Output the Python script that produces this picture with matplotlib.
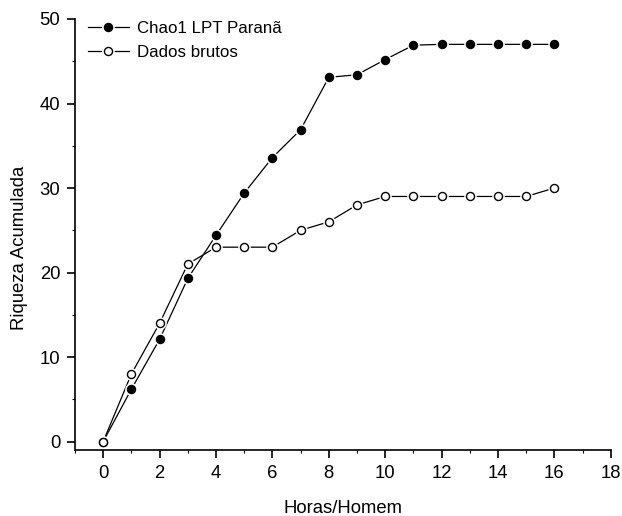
import numpy as np
import matplotlib
matplotlib.use("Agg")
import matplotlib.pyplot as plt
from matplotlib.ticker import MultipleLocator
from matplotlib.legend_handler import HandlerTuple

plt.rcParams['font.family'] = ['Liberation Sans', 'DejaVu Sans']

horas = np.arange(0, 17)
chao1 = [0, 6.2, 12.1, 19.3, 24.4, 29.4, 33.6, 36.9, 43.1, 43.4, 45.2, 46.9, 47.0, 47.0, 47.0, 47.0, 47.0]
brutos = [0, 8, 14, 21, 23, 23, 23, 25, 26, 28, 29, 29, 29, 29, 29, 29, 30]

fs = 13.3
fs_leg = 12.2
ms = 5.8

fig = plt.figure(figsize=(6.22, 5.16), dpi=100)
ax = fig.add_axes([0.1206, 0.1279, 0.8614, 0.8353])

# lines, then a white halo under each marker (gap effect), then markers
l1, = ax.plot(horas, chao1, '-', color='black', lw=0.9, zorder=2)
l2, = ax.plot(horas, brutos, '-', color='black', lw=0.9, zorder=2)
h1, = ax.plot(horas, chao1, 'o', ls='none', ms=ms + 2.2, color='white', zorder=3)
h2, = ax.plot(horas, brutos, 'o', ls='none', ms=ms + 2.2, color='white', zorder=3)
m1, = ax.plot(horas, chao1, 'o', ls='none', ms=ms, mfc='black', mec='black', zorder=4)
m2, = ax.plot(horas, brutos, 'o', ls='none', ms=ms, mfc='white', mec='black', mew=1.0, zorder=5)

ax.set_xlim(-1, 18)
ax.set_ylim(-1, 50)
ax.xaxis.set_major_locator(MultipleLocator(2))
ax.xaxis.set_minor_locator(MultipleLocator(1))
ax.yaxis.set_major_locator(MultipleLocator(10))
ax.yaxis.set_minor_locator(MultipleLocator(5))

for s in ['top', 'right']:
    ax.spines[s].set_visible(False)
for s in ['left', 'bottom']:
    ax.spines[s].set_linewidth(1.2)
ax.tick_params(which='major', direction='out', length=5.5, width=1.2, pad=5, labelsize=fs)
ax.tick_params(which='minor', direction='out', length=2.5, width=0.8)

ax.set_xlabel('Horas/Homem', fontsize=fs, labelpad=13)
ax.set_ylabel('Riqueza Acumulada', fontsize=fs)
ax.yaxis.set_label_coords(-0.088, 0.47)

ax.legend([(l1, h1, m1), (l2, h2, m2)], ['Chao1 LPT Paranã', 'Dados brutos'],
          handler_map={tuple: HandlerTuple(ndivide=1)},
          loc='upper left', frameon=False, fontsize=fs_leg, handlelength=2.4,
          handletextpad=0.5, borderpad=0, borderaxespad=0, labelspacing=0.5,
          bbox_to_anchor=(0.024, 0.995))

fig.savefig('out.png', dpi=100)
